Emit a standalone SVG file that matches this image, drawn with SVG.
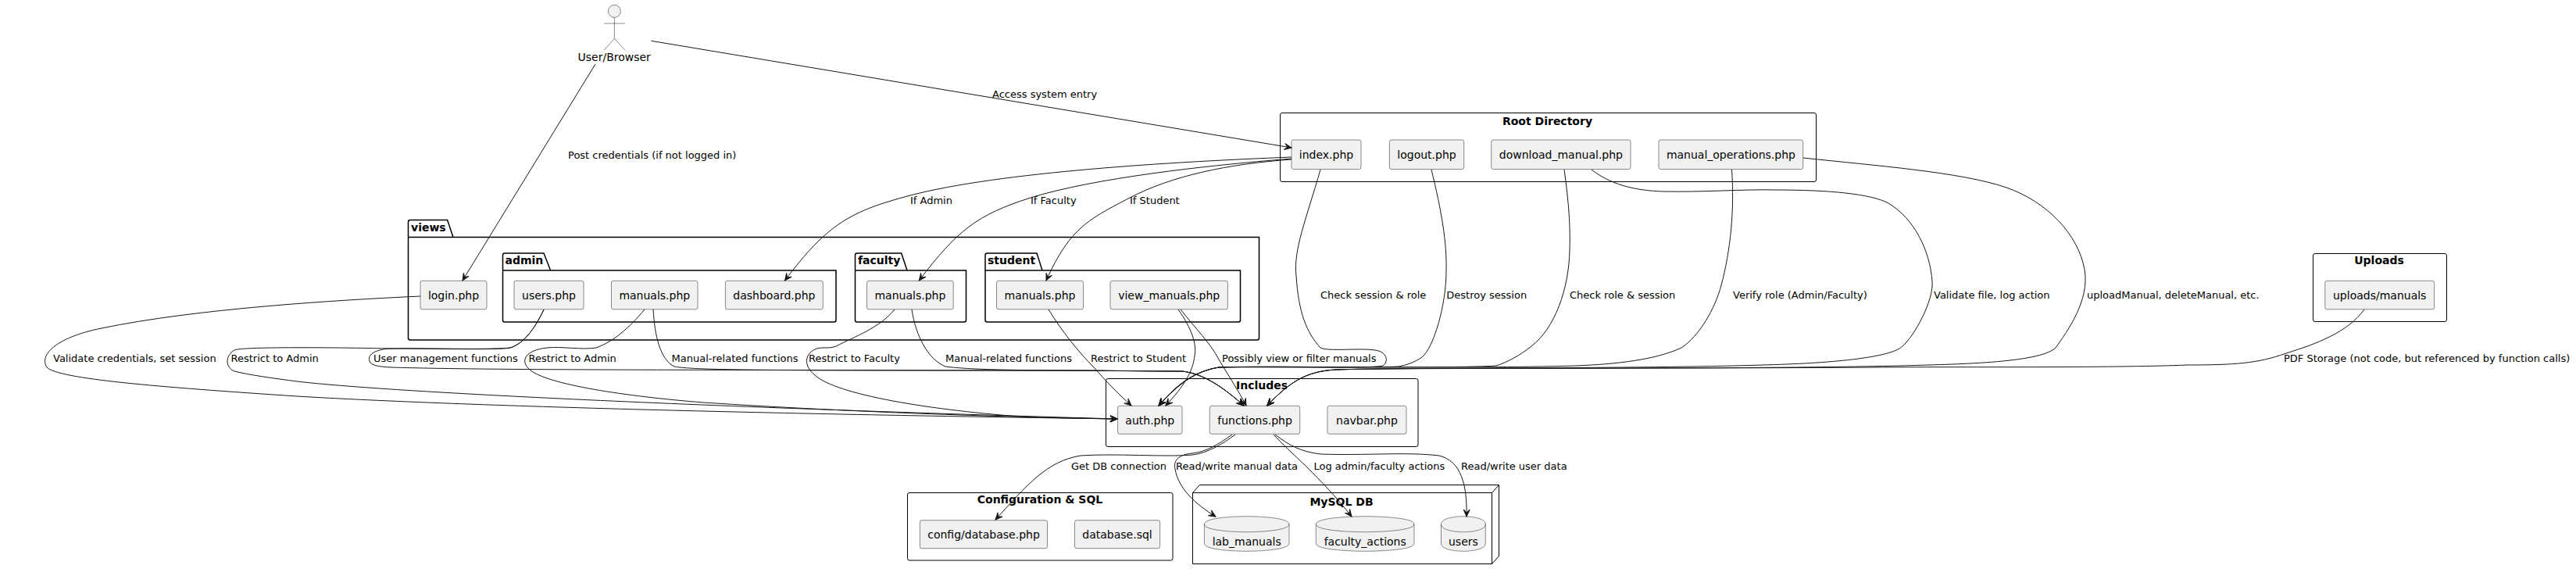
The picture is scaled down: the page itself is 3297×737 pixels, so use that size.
<svg xmlns="http://www.w3.org/2000/svg" width="3297" height="737" viewBox="0 0 3297 737">
<defs>
<style>
text{font-family:"DejaVu Sans",sans-serif;fill:#000}
.n{font-size:14px;text-anchor:middle;fill:#000}
.t{font-size:14px;font-weight:bold;text-anchor:middle}
.p{font-size:14px;font-weight:bold}
.l{font-size:13px}
.b{fill:#F1F1F1;stroke:#181818;stroke-width:.5}
.c{fill:none;stroke:#000;stroke-width:1}
.k{fill:none;stroke:#000;stroke-width:1.5}
.e{fill:none;stroke:#181818;stroke-width:1;marker-end:url(#a)}
</style>
<marker id="a" markerUnits="userSpaceOnUse" markerWidth="12" markerHeight="12" refX="10" refY="6" orient="auto" overflow="visible">
<path d="M1,2 L10,6 L1,10 L5,6 Z" fill="#181818" stroke="#181818"/>
</marker>
</defs>

<g id="cluster-root"><rect class="c" x="1638.5" y="144.5" width="686" height="88" rx="2.5"/><text class="t" x="1980.5" y="160">Root Directory</text></g>
<g id="cluster-views"><path class="k" d="M522.5,303.5 L522.5,284 Q522.5,281.5 525,281.5 L572.6,281.5 L580,303.5 M522.5,303.5 L1611.5,303.5 L1611.5,432.5 Q1611.5,435 1609,435 L525,435 Q522.5,435 522.5,432.5 Z"/><text class="p" x="526" y="296">views</text></g>
<g id="cluster-admin"><path class="k" d="M643.5,346 L643.5,326.5 Q643.5,324 646,324 L696,324 L704.6,346 M643.5,346 L1070,346 L1070,409.5 Q1070,412 1067.5,412 L646,412 Q643.5,412 643.5,409.5 Z"/><text class="p" x="646.5" y="338">admin</text></g>
<g id="cluster-faculty"><path class="k" d="M1094.5,346 L1094.5,326.5 Q1094.5,324 1097,324 L1153.7,324 L1161,346 M1094.5,346 L1236.5,346 L1236.5,409.5 Q1236.5,412 1234,412 L1097,412 Q1094.5,412 1094.5,409.5 Z"/><text class="p" x="1098" y="338">faculty</text></g>
<g id="cluster-student"><path class="k" d="M1261,346 L1261,326.5 Q1261,324 1263.5,324 L1327,324 L1334,346 M1261,346 L1587.5,346 L1587.5,409.5 Q1587.5,412 1585,412 L1263.5,412 Q1261,412 1261,409.5 Z"/><text class="p" x="1264" y="338">student</text></g>
<g id="cluster-includes"><rect class="c" x="1415.5" y="484.5" width="399.5" height="87" rx="2.5"/><text class="t" x="1615" y="498">Includes</text></g>
<g id="cluster-config"><rect class="c" x="1161.5" y="630.5" width="339.5" height="86.5" rx="2.5"/><text class="t" x="1331" y="644">Configuration &amp; SQL</text></g>
<g id="cluster-mysql"><path class="c" d="M1526.5,630.5 L1535.5,620.5 L1918.5,620.5 L1918.5,711.5 L1909.5,721.5 L1526.5,721.5 Z M1526.5,630.5 L1909.5,630.5 L1918.5,620.5 M1909.5,630.5 L1909.5,721.5"/><text class="t" x="1717" y="646.7">MySQL DB</text></g>
<g id="cluster-uploads"><rect class="c" x="2960.5" y="324.5" width="171" height="87" rx="2.5"/><text class="t" x="3045" y="338">Uploads</text></g>

<g id="actor-user"><ellipse cx="786.4" cy="14.3" rx="8" ry="8" class="b"/><path d="M786.4,22.3 V49.3 M773,30 H800 M773,64.3 L786.4,49.3 L800,64.3" fill="none" stroke="#181818" stroke-width=".5"/><text class="n" x="786.2" y="78">User/Browser</text></g>

<g id="index-php"><rect class="b" x="1653" y="179" width="89" height="37.5" rx="2.5"/><text class="n" x="1697.5" y="203">index.php</text></g>
<g id="logout-php"><rect class="b" x="1778.4" y="179" width="95.3" height="37.5" rx="2.5"/><text class="n" x="1826" y="203">logout.php</text></g>
<g id="download-manual-php"><rect class="b" x="1908.7" y="179" width="178.3" height="37.5" rx="2.5"/><text class="n" x="1997.9" y="203">download_manual.php</text></g>
<g id="manual-operations-php"><rect class="b" x="2123" y="179" width="184.7" height="37.5" rx="2.5"/><text class="n" x="2215.4" y="203">manual_operations.php</text></g>

<g id="login-php"><rect class="b" x="538" y="359.3" width="85" height="36.5" rx="2.5"/><text class="n" x="580.5" y="383">login.php</text></g>
<g id="admin-users-php"><rect class="b" x="658" y="359.3" width="89" height="36.5" rx="2.5"/><text class="n" x="702.5" y="383">users.php</text></g>
<g id="admin-manuals-php"><rect class="b" x="782.5" y="359.3" width="110.5" height="36.5" rx="2.5"/><text class="n" x="837.8" y="383">manuals.php</text></g>
<g id="admin-dashboard-php"><rect class="b" x="928.4" y="359.3" width="124.9" height="36.5" rx="2.5"/><text class="n" x="990.9" y="383">dashboard.php</text></g>
<g id="faculty-manuals-php"><rect class="b" x="1109.5" y="359.3" width="110.7" height="36.5" rx="2.5"/><text class="n" x="1164.9" y="383">manuals.php</text></g>
<g id="student-manuals-php"><rect class="b" x="1275.5" y="359.3" width="111" height="36.5" rx="2.5"/><text class="n" x="1331" y="383">manuals.php</text></g>
<g id="student-view-manuals-php"><rect class="b" x="1421" y="359.3" width="150.4" height="36.5" rx="2.5"/><text class="n" x="1496.2" y="383">view_manuals.php</text></g>

<g id="auth-php"><rect class="b" x="1430.6" y="519.3" width="82.4" height="36" rx="2.5"/><text class="n" x="1471.8" y="543">auth.php</text></g>
<g id="functions-php"><rect class="b" x="1548.3" y="519.3" width="115.4" height="36" rx="2.5"/><text class="n" x="1606" y="543">functions.php</text></g>
<g id="navbar-php"><rect class="b" x="1699" y="519.3" width="101" height="36" rx="2.5"/><text class="n" x="1749.5" y="543">navbar.php</text></g>

<g id="config-database-php"><rect class="b" x="1177.4" y="665.7" width="163.1" height="36" rx="2.5"/><text class="n" x="1259" y="689">config/database.php</text></g>
<g id="database-sql"><rect class="b" x="1375.5" y="665.7" width="109.1" height="36" rx="2.5"/><text class="n" x="1430" y="689">database.sql</text></g>

<g id="db-lab-manuals"><path class="b" d="M1541.4,670.7 C1541.4,660.7 1595.7,660.7 1595.7,660.7 C1595.7,660.7 1650,660.7 1650,670.7 L1650,695.3 C1650,705.3 1595.7,705.3 1595.7,705.3 C1595.7,705.3 1541.4,705.3 1541.4,695.3 Z"/><path d="M1541.4,670.7 C1541.4,680.7 1595.7,680.7 1595.7,680.7 C1595.7,680.7 1650,680.7 1650,670.7" fill="none" stroke="#181818" stroke-width=".5"/><text class="n" x="1595.7" y="698">lab_manuals</text></g>
<g id="db-faculty-actions"><path class="b" d="M1684.3,670.7 C1684.3,660.7 1747.2,660.7 1747.2,660.7 C1747.2,660.7 1810,660.7 1810,670.7 L1810,695.3 C1810,705.3 1747.2,705.3 1747.2,705.3 C1747.2,705.3 1684.3,705.3 1684.3,695.3 Z"/><path d="M1684.3,670.7 C1684.3,680.7 1747.2,680.7 1747.2,680.7 C1747.2,680.7 1810,680.7 1810,670.7" fill="none" stroke="#181818" stroke-width=".5"/><text class="n" x="1747.2" y="698">faculty_actions</text></g>
<g id="db-users"><path class="b" d="M1844.5,670.7 C1844.5,660.7 1872.9,660.7 1872.9,660.7 C1872.9,660.7 1901.3,660.7 1901.3,670.7 L1901.3,695.3 C1901.3,705.3 1872.9,705.3 1872.9,705.3 C1872.9,705.3 1844.5,705.3 1844.5,695.3 Z"/><path d="M1844.5,670.7 C1844.5,680.7 1872.9,680.7 1872.9,680.7 C1872.9,680.7 1901.3,680.7 1901.3,670.7" fill="none" stroke="#181818" stroke-width=".5"/><text class="n" x="1872.9" y="698">users</text></g>

<g id="uploads-manuals"><rect class="b" x="2975.8" y="359.3" width="139.8" height="36.5" rx="2.5"/><text class="n" x="3045.7" y="383">uploads/manuals</text></g>

<g id="connectors">
<path class="e" d="M833.5,52.3 L1653,189"/>
<path class="e" d="M762,82 L592,359"/>
<path class="e" d="M1653,201 C1500,207 1280,220 1165,250 C1090,270 1060,285 1004.5,359"/>
<path class="e" d="M1653,203 C1540,212 1400,228 1319,253 C1250,275 1225,295 1176.3,359"/>
<path class="e" d="M1653,204 C1570,210 1500,225 1446,253 C1395,280 1370,290 1339,359"/>
<path class="e" d="M1690,217 C1672,280 1655,320 1659,353 C1662,400 1672,425 1690,445 C1700,450 1740,445 1760,448 C1775,450 1778,462 1770,468 C1750,472 1640,469 1560,470 C1530,475 1510,490 1483,519"/>
<path class="e" d="M1832,217 C1845,270 1852,310 1851,347 C1851,390 1835,445 1820,457 C1810,464 1800,467 1790,469 C1740,471 1620,468 1560,470 C1530,475 1508,490 1483,519"/>
<path class="e" d="M2002,217 C2008,260 2010,290 2009,320 C2008,370 1990,420 1960,443 C1945,455 1930,463 1915,468 C1850,472 1620,468 1560,470 C1530,475 1508,490 1483,519"/>
<path class="e" d="M2037,217 C2060,235 2090,244 2130,245 C2180,246 2230,242 2274,243 C2340,243 2395,248 2417,260 C2450,280 2470,320 2473,360 C2475,385 2450,430 2435,443 C2420,458 2340,465 2256,467 C2100,472 1800,470 1710,473 C1670,475 1650,490 1621.7,519"/>
<path class="e" d="M2216.5,217 C2220,270 2215,320 2203,365 C2195,395 2175,430 2152,445 C2120,460 2070,466 2016,468 C1880,472 1620,468 1560,470 C1530,475 1508,490 1483,519"/>
<path class="e" d="M2308,202 C2400,212 2510,220 2568,240 C2620,258 2660,300 2668,345 C2675,385 2645,425 2631,445 C2610,465 2500,466 2433,468 C2200,473 1800,470 1710,473 C1670,475 1650,490 1621.7,519"/>
<path class="e" d="M3026,396 C3005,425 2965,440 2926,452 C2890,465 2860,467 2800,467 C2700,471 2500,469 2400,470 C2100,472 1800,470 1710,473 C1670,475 1650,490 1621.7,519"/>
<path class="e" d="M538,379 C430,384 250,395 130,420 C70,432 50,455 60,470 C75,485 200,495 380,507 C600,520 1000,530 1430,536"/>
<path class="e" d="M696,396 C685,420 670,440 653,445 C640,448 560,446 500,446 C450,445 310,443 300,448 C288,455 288,470 300,475 C320,480 350,484 380,488 C500,502 900,521 1430,536"/>
<path class="e" d="M696,396 C685,420 670,440 653,445 C620,448 540,445 500,446 C478,447 470,455 473,462 C475,468 485,469 500,470 C640,474 900,473 1300,474 C1400,474 1480,475 1513,475 C1540,478 1565,495 1592,519"/>
<path class="e" d="M825,396 C805,420 785,437 763,445 C745,448 720,443 700,445 C672,448 665,462 678,473 C700,492 800,507 900,515 C1100,528 1300,534 1430,536"/>
<path class="e" d="M836,396 C838,430 845,460 863,469 C890,474 1000,474 1300,474 C1400,474 1480,475 1513,475 C1540,478 1565,495 1592,519"/>
<path class="e" d="M1145,396 C1125,420 1095,430 1070,443 C1060,447 1050,443 1043,447 C1030,453 1028,468 1043,480 C1070,505 1190,525 1319,534 L1430,536"/>
<path class="e" d="M1167,396 C1172,430 1188,460 1210,469 C1240,473 1300,474 1400,474 C1480,475 1513,475 1513,475 C1540,478 1565,495 1592,519"/>
<path class="e" d="M1342,396 C1360,425 1380,450 1400,470 C1415,487 1430,503 1448,519"/>
<path class="e" d="M1508,396 C1525,420 1532,440 1529,455 C1527,475 1515,495 1491.7,519"/>
<path class="e" d="M1511,396 C1530,420 1550,440 1560,460 C1575,485 1585,500 1595,519"/>
<path class="e" d="M1581,556 C1565,568 1545,580 1526,582 C1490,585 1430,580 1383,583 C1340,590 1315,620 1274,665"/>
<path class="e" d="M1577,556 C1560,568 1545,578 1526,580 C1505,582 1502,592 1504,600 C1508,625 1530,645 1556,661"/>
<path class="e" d="M1630,556 C1650,578 1690,610 1730,661"/>
<path class="e" d="M1632,556 C1650,570 1665,578 1690,581 C1750,583 1800,578 1842,583 C1870,590 1878,620 1877,661"/>
</g>

<g id="edge-labels">
<text class="l" x="1270" y="125">Access system entry</text>
<text class="l" x="727" y="203">Post credentials (if not logged in)</text>
<text class="l" x="1165" y="261">If Admin</text>
<text class="l" x="1319" y="261">If Faculty</text>
<text class="l" x="1446" y="261">If Student</text>
<text class="l" x="1690" y="381.5">Check session &amp; role</text>
<text class="l" x="1851.3" y="381.5">Destroy session</text>
<text class="l" x="2009" y="381.5">Check role &amp; session</text>
<text class="l" x="2218" y="381.5">Verify role (Admin/Faculty)</text>
<text class="l" x="2475" y="381.5">Validate file, log action</text>
<text class="l" x="2671" y="381.5">uploadManual, deleteManual, etc.</text>
<text class="l" x="68" y="463">Validate credentials, set session</text>
<text class="l" x="295.5" y="463">Restrict to Admin</text>
<text class="l" x="478" y="463">User management functions</text>
<text class="l" x="676.5" y="463">Restrict to Admin</text>
<text class="l" x="859.6" y="463">Manual-related functions</text>
<text class="l" x="1035" y="463">Restrict to Faculty</text>
<text class="l" x="1210" y="463">Manual-related functions</text>
<text class="l" x="1396" y="463">Restrict to Student</text>
<text class="l" x="1564" y="463">Possibly view or filter manuals</text>
<text class="l" x="2923" y="463">PDF Storage (not code, but referenced by function calls)</text>
<text class="l" x="1371" y="600.5">Get DB connection</text>
<text class="l" x="1505" y="600.5">Read/write manual data</text>
<text class="l" x="1681.5" y="600.5">Log admin/faculty actions</text>
<text class="l" x="1870" y="600.5">Read/write user data</text>
</g>
</svg>
